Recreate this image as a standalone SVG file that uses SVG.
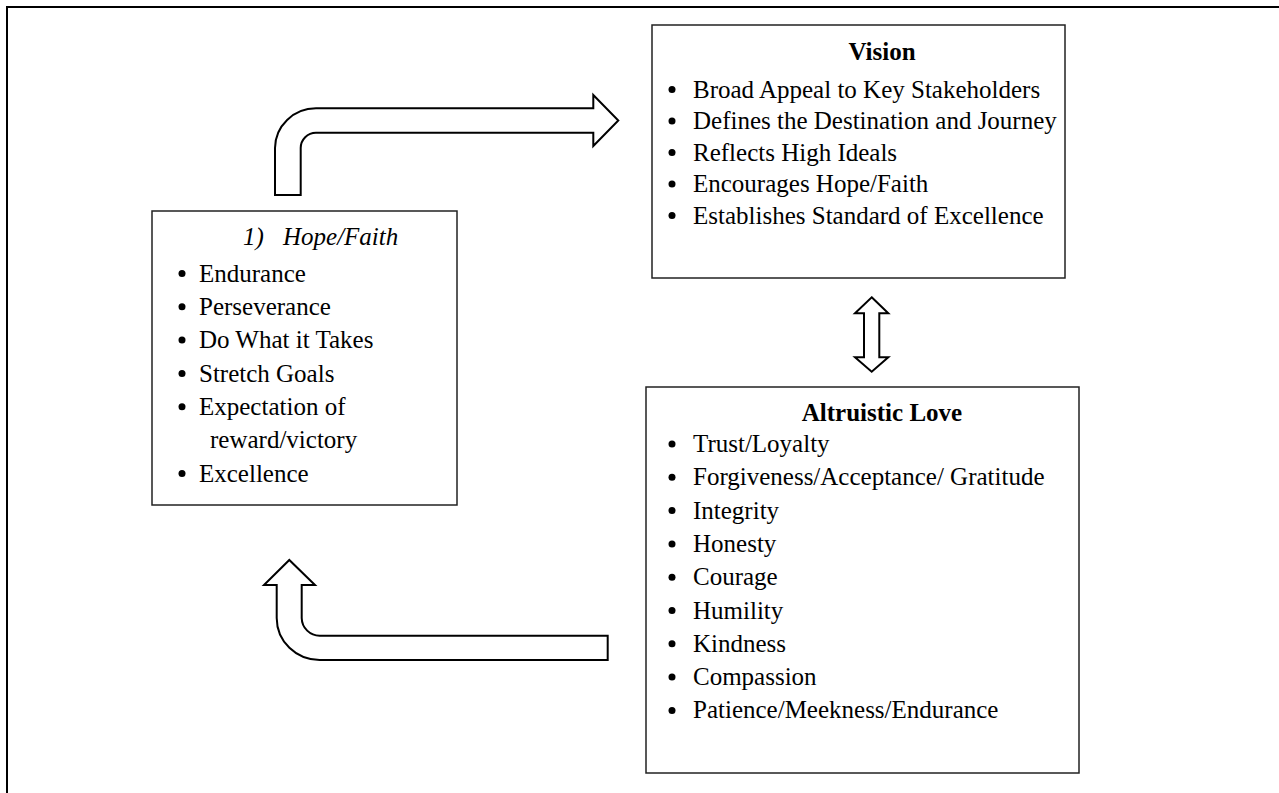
<svg xmlns="http://www.w3.org/2000/svg" width="1279" height="793" viewBox="0 0 1279 793">
<style>
text{font-family:"Liberation Serif","Times New Roman",serif;font-size:25px;fill:#000}
.t{font-weight:bold;text-anchor:middle}
.i{font-style:italic}
.box{fill:#fff;stroke:#222;stroke-width:1.5}
.arr{fill:#fff;stroke:#000;stroke-width:2;stroke-linejoin:miter}
.b{fill:#000}
</style>
<rect width="1279" height="793" fill="#fff"/>
<path d="M7 793 V7 H1279" fill="none" stroke="#000" stroke-width="2"/>
<g id="connectors">
<path class="arr" d="M275 195 V148 A41 40 0 0 1 316 108.3 H593.3 V95 L618.3 120.5 L593.3 146 V132.7 H316 A15.3 15.3 0 0 0 300.7 148 V195 Z"/>
<path class="arr" d="M607.7 635.7 H320 A18 18 0 0 1 301.7 618 V585 H315 L289.3 560 L264 585 H276.7 V618 A43 42 0 0 0 320 660 H607.7 Z"/>
<path class="arr" d="M871.7 297.3 L888.3 313.3 H879.3 V357.3 H888.3 L871.7 371.7 L855 357.3 H864 V313.3 H855 Z"/>
</g>
<g id="hope">
<rect class="box" x="152" y="211" width="305" height="294"/>
<text class="i" y="245"><tspan x="243">1)</tspan><tspan x="283">Hope/Faith</tspan></text>
<g class="b"><circle cx="182" cy="273.5" r="3.5"/><circle cx="182" cy="306.8" r="3.5"/><circle cx="182" cy="340.1" r="3.5"/><circle cx="182" cy="373.4" r="3.5"/><circle cx="182" cy="406.7" r="3.5"/><circle cx="182" cy="473.5" r="3.5"/></g>
<text x="199" y="281.7">Endurance</text>
<text x="199" y="315">Perseverance</text>
<text x="199" y="348.3">Do What it Takes</text>
<text x="199" y="381.6">Stretch Goals</text>
<text x="199" y="414.9">Expectation of</text>
<text x="210" y="448.2">reward/victory</text>
<text x="199" y="481.7">Excellence</text>
</g>
<g id="vision">
<rect class="box" x="652" y="25" width="413" height="253"/>
<text class="t" x="882" y="60">Vision</text>
<g class="b"><circle cx="672" cy="89.5" r="3.5"/><circle cx="672" cy="121" r="3.5"/><circle cx="672" cy="152.5" r="3.5"/><circle cx="672" cy="184" r="3.5"/><circle cx="672" cy="215.5" r="3.5"/></g>
<text x="693" y="97.5">Broad Appeal to Key Stakeholders</text>
<text x="693" y="129">Defines the Destination and Journey</text>
<text x="693" y="160.5">Reflects High Ideals</text>
<text x="693" y="192">Encourages Hope/Faith</text>
<text x="693" y="223.5">Establishes Standard of Excellence</text>
</g>
<g id="altruistic">
<rect class="box" x="646" y="387" width="433" height="386"/>
<text class="t" x="882" y="421">Altruistic Love</text>
<g class="b"><circle cx="672" cy="444" r="3.5"/><circle cx="672" cy="477.3" r="3.5"/><circle cx="672" cy="510.6" r="3.5"/><circle cx="672" cy="543.9" r="3.5"/><circle cx="672" cy="577.2" r="3.5"/><circle cx="672" cy="610.5" r="3.5"/><circle cx="672" cy="643.8" r="3.5"/><circle cx="672" cy="677.1" r="3.5"/><circle cx="672" cy="710.4" r="3.5"/></g>
<text x="693" y="452">Trust/Loyalty</text>
<text x="693" y="485.3">Forgiveness/Acceptance/ Gratitude</text>
<text x="693" y="518.6">Integrity</text>
<text x="693" y="551.9">Honesty</text>
<text x="693" y="585.2">Courage</text>
<text x="693" y="618.5">Humility</text>
<text x="693" y="651.8">Kindness</text>
<text x="693" y="685.1">Compassion</text>
<text x="693" y="718.4">Patience/Meekness/Endurance</text>
</g>
</svg>
